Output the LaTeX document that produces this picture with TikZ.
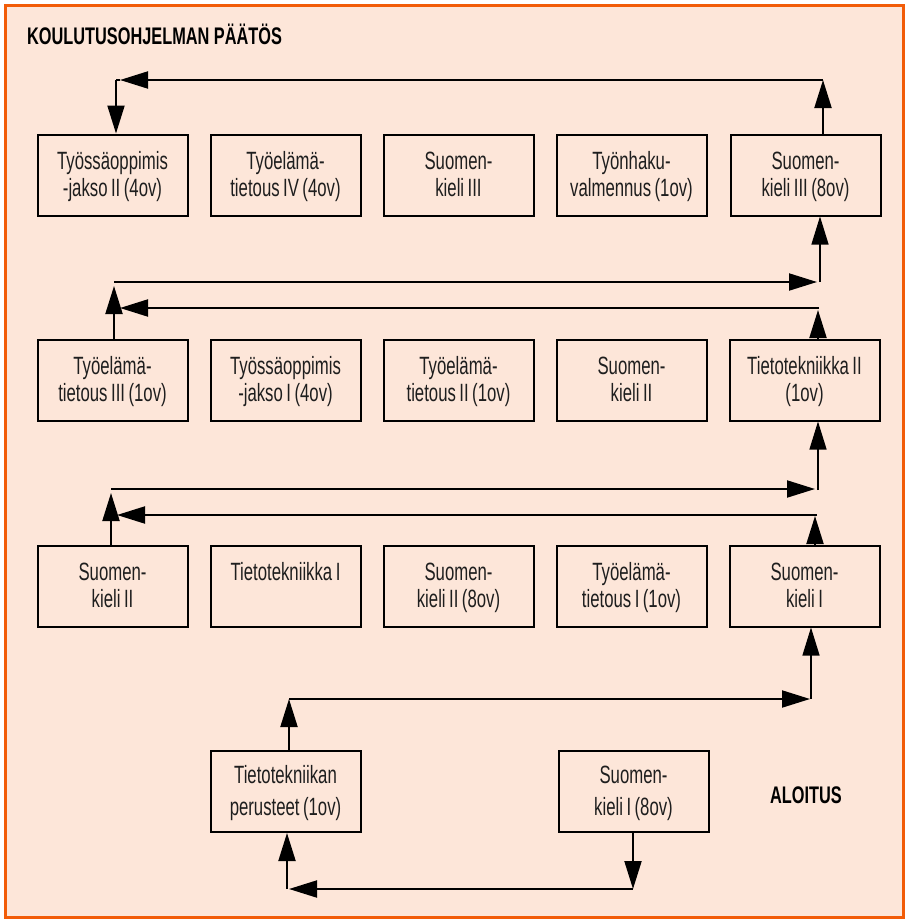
\documentclass[tikz,border=0pt]{standalone}
\usepackage{fontspec}
\setmainfont{Liberation Sans}
\newfontfamily\boxfont[FakeStretch=0.67,WordSpace=0.75]{Liberation Sans}
\newfontfamily\headfont[FakeStretch=0.68]{Liberation Sans}
\usetikzlibrary{arrows.meta}
\definecolor{bgpeach}{RGB}{253,230,217}
\definecolor{frameorange}{RGB}{242,92,8}
\definecolor{textcol}{RGB}{30,30,30}
\newcommand\mystrutA{\rule[-6pt]{0pt}{27pt}}
\newcommand\mystrutB{\rule[-2pt]{0pt}{23pt}}
\begin{document}
\begin{tikzpicture}[x=1pt,y=-1pt,
  box/.style={draw=black, line width=2pt, minimum width=150pt, minimum height=81pt,
    inner sep=0pt, align=center, text=textcol,
    font=\boxfont\fontsize{25}{27}\selectfont},
  boxb/.style={box, font=\boxfont\fontsize{25}{32}\selectfont},
  head/.style={text=black, inner sep=0pt, font=\headfont\bfseries\fontsize{24}{26}\selectfont},
  arr/.style={line width=2pt, -{Triangle[length=28pt,width=17pt]}},
  tarr/.style={line width=1.2pt, -{Triangle[length=28pt,width=17pt]}},
  lin/.style={line width=2pt}]
\useasboundingbox (0,0) rectangle (906,921);
\fill[white] (0,0) rectangle (906,921);
\draw[fill=bgpeach, draw=frameorange, line width=3pt] (5,5) rectangle (903,917);

\node[head, anchor=base west] (title) at (27,44) {KOULUTUSOHJELMAN PÄÄTÖS};
\node[head, anchor=base west] (start) at (770,803) {ALOITUS};

% row 1
\node[box] (r1c1) at (112.5,175) {\mystrutA Työssäoppimis\\\mystrutA -jakso II (4ov)};
\node[box] (r1c2) at (285.5,175) {\mystrutA Työelämä-\\\mystrutA tietous IV (4ov)};
\node[box] (r1c3) at (458.5,175) {\mystrutA Suomen-\\\mystrutA kieli III};
\node[box] (r1c4) at (631.5,175) {\mystrutA Työnhaku-\\\mystrutA valmennus (1ov)};
\node[box] (r1c5) at (805.5,175) {\mystrutA Suomen-\\\mystrutA kieli III (8ov)};
% row 2
\node[box] (r2c1) at (112.5,380) {\mystrutA Työelämä-\\\mystrutA tietous III (1ov)};
\node[box] (r2c2) at (285.5,380) {\mystrutA Työssäoppimis\\\mystrutA -jakso I (4ov)};
\node[box] (r2c3) at (458.5,380) {\mystrutA Työelämä-\\\mystrutA tietous II (1ov)};
\node[box] (r2c4) at (631.5,380) {\mystrutA Suomen-\\\mystrutA kieli II};
\node[box] (r2c5) at (804.5,380) {\mystrutA Tietotekniikka II\\\mystrutA (1ov)};
% row 3
\node[box] (r3c1) at (112.5,586) {\mystrutA Suomen-\\\mystrutA kieli II};
\node[box] (r3c2) at (285.5,586) {\mystrutA Tietotekniikka I\\\mystrutA};
\node[box] (r3c3) at (458.5,586) {\mystrutA Suomen-\\\mystrutA kieli II (8ov)};
\node[box] (r3c4) at (631.5,586) {\mystrutA Työelämä-\\\mystrutA tietous I (1ov)};
\node[box] (r3c5) at (804.5,586) {\mystrutA Suomen-\\\mystrutA kieli I};
% row 4
\node[boxb] (r4a) at (285.5,791.5) {\mystrutB Tietotekniikan\\\mystrutB perusteet (1ov)};
\node[boxb] (r4b) at (633.5,791.5) {\mystrutB Suomen-\\\mystrutB kieli I (8ov)};

% coordinates
\coordinate (t1) at (823,80);
\coordinate (t2) at (116,80);
\coordinate (t2h) at (120,80);

\coordinate (g1a) at (114,282);
\coordinate (g1ah) at (114,286);
\coordinate (g1b) at (817,282);
\coordinate (g1c) at (820,282);
\coordinate (g1d) at (818,310);
\coordinate (g1e) at (819,308);
\coordinate (g1f) at (120,308);

\coordinate (g2a) at (111,489);
\coordinate (g2ah) at (111,493);
\coordinate (g2b) at (815,489);
\coordinate (g2c) at (818,490);
\coordinate (g2d) at (815,516);
\coordinate (g2e) at (817,515);
\coordinate (g2f) at (117,515);

\coordinate (g3a) at (289,699);
\coordinate (g3b) at (810,699);
\coordinate (g3c) at (811,699);
\coordinate (g3d) at (633,889);
\coordinate (g3e) at (289,889);
\coordinate (g3f) at (287,889);

% top loop
\draw[arr] (r1c5.north -| t1) -- (t1);
\draw[arr] (t1) -- (t2h);
\draw[lin] (t2h) -- (t2);
\draw[arr] (t2) -- (t2 |- r1c1.north);

% gap between rows 1 and 2
\draw[arr] (r2c1.north -| g1a) -- (g1ah);
\draw[arr] (g1a) -- (g1b);
\draw[tarr] (g1c) -- (g1c |- r1c5.south);
\draw[arr] (r2c5.north -| g1d) -- (g1d);
\draw[arr] (g1e) -- (g1f);

% gap between rows 2 and 3
\draw[arr] (r3c1.north -| g2a) -- (g2ah);
\draw[arr] (g2a) -- (g2b);
\draw[tarr] (g2c) -- (g2c |- r2c5.south);
\draw[arr] (r3c5.north -| g2d) -- (g2d);
\draw[arr] (g2e) -- (g2f);

% bottom
\draw[arr] (r4a.north -| g3a) -- (g3a);
\draw[arr] (g3a) -- (g3b);
\draw[tarr] (g3c) -- (g3c |- r3c5.south);
\draw[arr] (r4b.south -| g3d) -- (g3d);
\draw[arr] (g3d) -- (g3e);
\draw[arr] (g3f) -- (g3f |- r4a.south);
\end{tikzpicture}
\end{document}
